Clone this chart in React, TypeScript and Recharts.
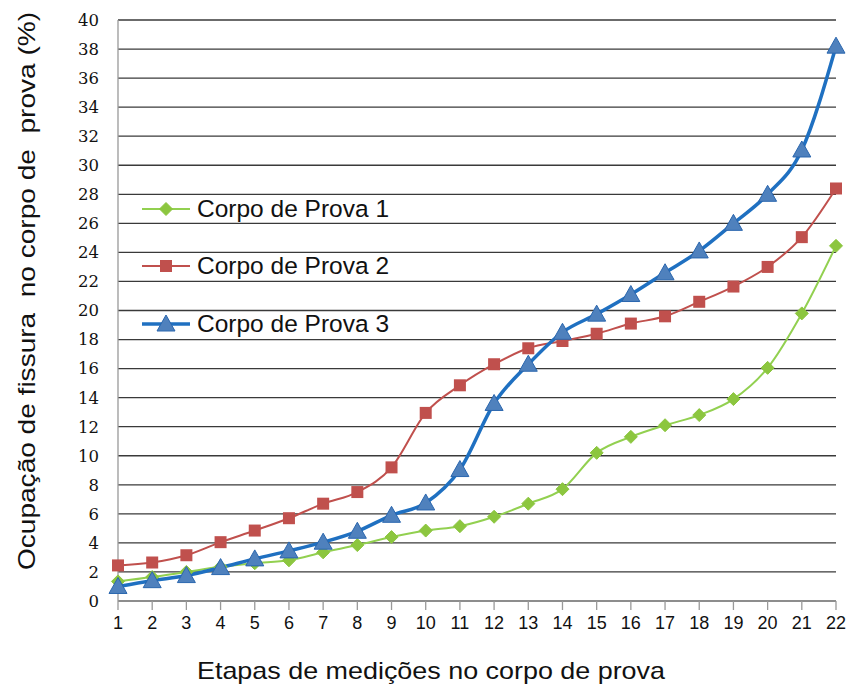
import { LineChart, Line, XAxis, YAxis, CartesianGrid, Legend, Label } from 'recharts'

const etapas = ['1', '2', '3', '4', '5', '6', '7', '8', '9', '10', '11', '12', '13', '14', '15', '16', '17', '18', '19', '20', '21', '22']
const corpo1 = [1.35, 1.65, 2.0, 2.35, 2.6, 2.8, 3.35, 3.85, 4.4, 4.85, 5.15, 5.8, 6.7, 7.7, 10.2, 11.3, 12.1, 12.8, 13.9, 16.05, 19.8, 24.45]
const corpo2 = [2.45, 2.65, 3.15, 4.05, 4.85, 5.7, 6.7, 7.5, 9.2, 12.95, 14.85, 16.3, 17.4, 17.9, 18.4, 19.1, 19.6, 20.6, 21.65, 23.0, 25.05, 28.4]
const corpo3 = [1.0, 1.4, 1.75, 2.3, 2.9, 3.45, 4.05, 4.8, 5.9, 6.75, 9.05, 13.6, 16.3, 18.5, 19.75, 21.1, 22.6, 24.1, 26.0, 28.0, 31.05, 38.2]
const yTicks = [0, 2, 4, 6, 8, 10, 12, 14, 16, 18, 20, 22, 24, 26, 28, 30, 32, 34, 36, 38, 40]

const seriesNames = ['Corpo de Prova 1', 'Corpo de Prova 2', 'Corpo de Prova 3']

const data = etapas.map((e, i) => ({
  etapa: e,
  c1: corpo1[i],
  c2: corpo2[i],
  c3: corpo3[i],
}))

const GREEN = '#92D050'
const GREEN_FILL = '#8CC63F'
const RED = '#C0504D'
const BLUE = '#1F70C1'
const BLUE_FILL = '#4F81BD'

const FONT = '"Liberation Sans", Arial, sans-serif'

function Diamond({ cx, cy }: { cx?: number; cy?: number }) {
  if (cx == null || cy == null) return null
  const r = 6.5
  return <path d={`M${cx},${cy - r}L${cx + r},${cy}L${cx},${cy + r}L${cx - r},${cy}Z`} fill={GREEN_FILL} stroke={GREEN_FILL} />
}

function Square({ cx, cy }: { cx?: number; cy?: number }) {
  if (cx == null || cy == null) return null
  return <rect x={cx - 6} y={cy - 6} width={12} height={12} fill={RED} />
}

function Triangle({ cx, cy }: { cx?: number; cy?: number }) {
  if (cx == null || cy == null) return null
  return (
    <path
      d={`M${cx},${cy - 9}L${cx + 9},${cy + 7}L${cx - 9},${cy + 7}Z`}
      fill={BLUE_FILL}
      stroke="#2A66AE"
      strokeWidth={1}
    />
  )
}

function LegendIcon({ idx }: { idx: number }) {
  const color = [GREEN, RED, BLUE][idx]
  const width = [2, 2, 3.5][idx]
  return (
    <svg width={52} height={24} style={{ display: 'block' }}>
      <line x1={2} y1={12} x2={50} y2={12} stroke={color} strokeWidth={width} />
      {idx === 0 && <Diamond cx={26} cy={12} />}
      {idx === 1 && <Square cx={26} cy={12} />}
      {idx === 2 && <Triangle cx={26} cy={12} />}
    </svg>
  )
}

function renderLegend() {
  return (
    <div style={{ fontFamily: FONT, fontSize: 24.5, color: '#111' }}>
      {seriesNames.map((name, i) => (
        <div key={name} style={{ display: 'flex', alignItems: 'center', height: 57.5 }}>
          <LegendIcon idx={i} />
          <span style={{ marginLeft: 5, whiteSpace: 'nowrap' }}>{name}</span>
        </div>
      ))}
    </div>
  )
}

export default function App() {
  return (
    <div style={{ position: 'absolute', left: 0, top: 0, width: 851, height: 688, background: '#fff' }}>
      <style>{'body{margin:0}'}</style>
      <LineChart width={851} height={688} data={data} margin={{ top: 20, right: 15, left: 0, bottom: 7 }}>
        <CartesianGrid horizontal vertical={false} stroke="#3a3a3a" strokeWidth={1.3} />
        <XAxis
          dataKey="etapa"
          interval={0}
          height={80}
          padding={{ left: 0, right: 0 }}
          axisLine={{ stroke: '#999', strokeWidth: 1.3 }}
          tickLine={{ stroke: '#999', strokeWidth: 1.3 }}
          tickSize={9}
          tickMargin={6}
          tick={{ fill: '#111', fontSize: 18, fontFamily: FONT }}
        >
          <Label
            content={() => (
              <text
                x={431}
                y={679}
                textAnchor="middle"
                textLength={468}
                lengthAdjust="spacingAndGlyphs"
                fontFamily={FONT}
                fontSize={24}
                fill="#111"
              >
                Etapas de medições no corpo de prova
              </text>
            )}
          />
        </XAxis>
        <YAxis
          domain={[0, 40]}
          ticks={yTicks}
          interval={0}
          width={118}
          axisLine={{ stroke: '#999', strokeWidth: 1.3 }}
          tickLine={false}
          tickMargin={13}
          tick={{ fill: '#111', fontSize: 16.5, fontFamily: '"DejaVu Serif", serif' }}
        >
          <Label
            content={() => (
              <text
                x={35}
                y={291}
                textAnchor="middle"
                transform="rotate(-90 35 291)"
                textLength={558}
                lengthAdjust="spacingAndGlyphs"
                style={{ whiteSpace: 'pre' }}
                fontFamily={FONT}
                fontSize={24}
                fill="#111"
              >
                Ocupação de fissura  no corpo de  prova (%)
              </text>
            )}
          />
        </YAxis>
        <Legend
          layout="vertical"
          align="center"
          verticalAlign="middle"
          wrapperStyle={{ left: 140, top: 180, width: 'auto' }}
          content={renderLegend}
        />
        <Line type="monotone" dataKey="c1" name={seriesNames[0]} stroke={GREEN} strokeWidth={2} dot={<Diamond />} activeDot={false} isAnimationActive={false} />
        <Line type="monotone" dataKey="c2" name={seriesNames[1]} stroke={RED} strokeWidth={2} dot={<Square />} activeDot={false} isAnimationActive={false} />
        <Line type="monotone" dataKey="c3" name={seriesNames[2]} stroke={BLUE} strokeWidth={3.5} dot={<Triangle />} activeDot={false} isAnimationActive={false} />
      </LineChart>
    </div>
  )
}
